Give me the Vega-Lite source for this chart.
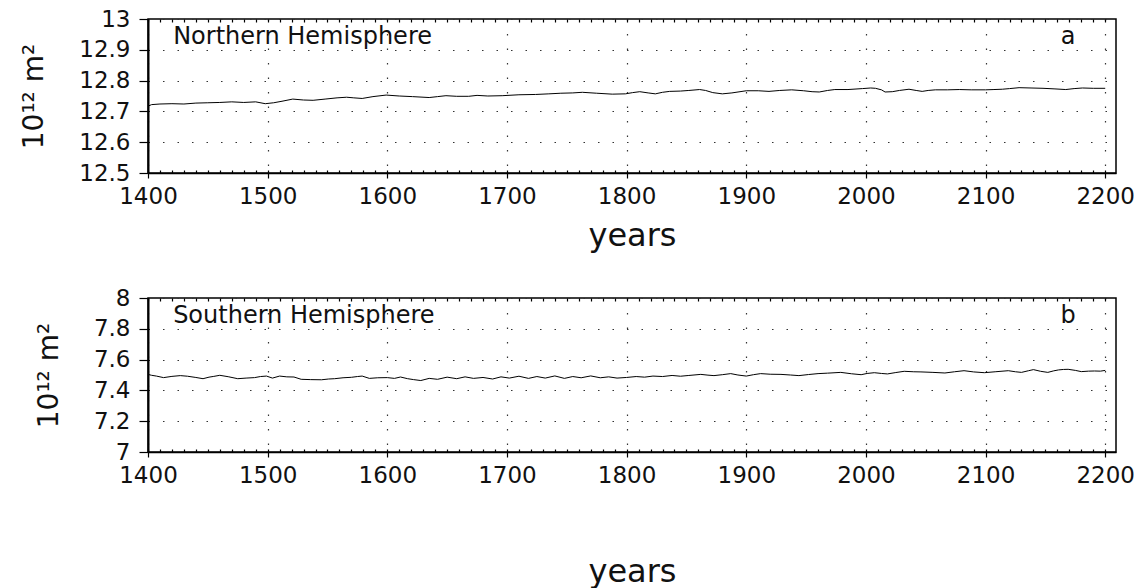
{
  "$schema": "https://vega.github.io/schema/vega-lite/v6.json",
  "background": "white",
  "padding": {"left": 20, "top": 7, "right": 5, "bottom": 0},
  "spacing": 34,
  "datasets": {
    "north": [
      {"year": 1400, "value": 12.717}, {"year": 1403, "value": 12.722}, {"year": 1410, "value": 12.724}, {"year": 1420, "value": 12.725},
      {"year": 1430, "value": 12.724}, {"year": 1440, "value": 12.727}, {"year": 1450, "value": 12.728}, {"year": 1460, "value": 12.729},
      {"year": 1470, "value": 12.731}, {"year": 1480, "value": 12.729}, {"year": 1490, "value": 12.731}, {"year": 1498, "value": 12.725},
      {"year": 1505, "value": 12.728}, {"year": 1512, "value": 12.733}, {"year": 1521, "value": 12.740}, {"year": 1530, "value": 12.737},
      {"year": 1538, "value": 12.736}, {"year": 1548, "value": 12.740}, {"year": 1558, "value": 12.744}, {"year": 1566, "value": 12.746},
      {"year": 1572, "value": 12.744}, {"year": 1579, "value": 12.742}, {"year": 1588, "value": 12.748}, {"year": 1599, "value": 12.753},
      {"year": 1610, "value": 12.750}, {"year": 1621, "value": 12.748}, {"year": 1635, "value": 12.745}, {"year": 1642, "value": 12.748},
      {"year": 1649, "value": 12.751}, {"year": 1658, "value": 12.749}, {"year": 1668, "value": 12.749}, {"year": 1675, "value": 12.752},
      {"year": 1684, "value": 12.750}, {"year": 1696, "value": 12.751}, {"year": 1710, "value": 12.754}, {"year": 1724, "value": 12.755},
      {"year": 1735, "value": 12.757}, {"year": 1745, "value": 12.759}, {"year": 1755, "value": 12.760}, {"year": 1763, "value": 12.762},
      {"year": 1775, "value": 12.759}, {"year": 1788, "value": 12.756}, {"year": 1799, "value": 12.757}, {"year": 1805, "value": 12.761},
      {"year": 1811, "value": 12.764}, {"year": 1818, "value": 12.760}, {"year": 1824, "value": 12.757}, {"year": 1830, "value": 12.762},
      {"year": 1836, "value": 12.765}, {"year": 1845, "value": 12.766}, {"year": 1852, "value": 12.768}, {"year": 1861, "value": 12.771},
      {"year": 1866, "value": 12.768}, {"year": 1872, "value": 12.761}, {"year": 1880, "value": 12.757}, {"year": 1888, "value": 12.760},
      {"year": 1900, "value": 12.767}, {"year": 1910, "value": 12.767}, {"year": 1919, "value": 12.765}, {"year": 1928, "value": 12.768},
      {"year": 1938, "value": 12.770}, {"year": 1948, "value": 12.767}, {"year": 1955, "value": 12.764}, {"year": 1961, "value": 12.763},
      {"year": 1968, "value": 12.768}, {"year": 1974, "value": 12.771}, {"year": 1985, "value": 12.771}, {"year": 1997, "value": 12.774},
      {"year": 2004, "value": 12.776}, {"year": 2008, "value": 12.775}, {"year": 2013, "value": 12.770}, {"year": 2016, "value": 12.763},
      {"year": 2022, "value": 12.764}, {"year": 2028, "value": 12.768}, {"year": 2036, "value": 12.772}, {"year": 2042, "value": 12.768},
      {"year": 2047, "value": 12.765}, {"year": 2052, "value": 12.768}, {"year": 2058, "value": 12.770}, {"year": 2068, "value": 12.770},
      {"year": 2078, "value": 12.771}, {"year": 2088, "value": 12.770}, {"year": 2100, "value": 12.770}, {"year": 2107, "value": 12.771},
      {"year": 2114, "value": 12.772}, {"year": 2120, "value": 12.774}, {"year": 2128, "value": 12.777}, {"year": 2138, "value": 12.776},
      {"year": 2148, "value": 12.775}, {"year": 2158, "value": 12.773}, {"year": 2167, "value": 12.771}, {"year": 2174, "value": 12.774},
      {"year": 2181, "value": 12.776}, {"year": 2190, "value": 12.775}, {"year": 2200, "value": 12.775}
    ],
    "south": [
      {"year": 1400, "value": 7.504}, {"year": 1403, "value": 7.498}, {"year": 1407, "value": 7.493}, {"year": 1413, "value": 7.483},
      {"year": 1420, "value": 7.491}, {"year": 1427, "value": 7.496}, {"year": 1433, "value": 7.492}, {"year": 1440, "value": 7.484},
      {"year": 1446, "value": 7.476}, {"year": 1451, "value": 7.486}, {"year": 1455, "value": 7.491}, {"year": 1460, "value": 7.498},
      {"year": 1467, "value": 7.489}, {"year": 1475, "value": 7.476}, {"year": 1482, "value": 7.480}, {"year": 1489, "value": 7.483},
      {"year": 1494, "value": 7.490}, {"year": 1499, "value": 7.493}, {"year": 1504, "value": 7.480}, {"year": 1510, "value": 7.493},
      {"year": 1516, "value": 7.488}, {"year": 1522, "value": 7.487}, {"year": 1528, "value": 7.472}, {"year": 1536, "value": 7.470},
      {"year": 1545, "value": 7.469}, {"year": 1551, "value": 7.474}, {"year": 1556, "value": 7.476}, {"year": 1563, "value": 7.482},
      {"year": 1570, "value": 7.485}, {"year": 1575, "value": 7.490}, {"year": 1579, "value": 7.493}, {"year": 1585, "value": 7.478},
      {"year": 1592, "value": 7.482}, {"year": 1600, "value": 7.483}, {"year": 1606, "value": 7.478}, {"year": 1611, "value": 7.487},
      {"year": 1617, "value": 7.476}, {"year": 1622, "value": 7.470}, {"year": 1628, "value": 7.464}, {"year": 1635, "value": 7.478},
      {"year": 1642, "value": 7.472}, {"year": 1650, "value": 7.486}, {"year": 1658, "value": 7.476}, {"year": 1665, "value": 7.488},
      {"year": 1672, "value": 7.478}, {"year": 1680, "value": 7.484}, {"year": 1688, "value": 7.474}, {"year": 1695, "value": 7.488},
      {"year": 1702, "value": 7.480}, {"year": 1710, "value": 7.492}, {"year": 1718, "value": 7.478}, {"year": 1725, "value": 7.490},
      {"year": 1732, "value": 7.480}, {"year": 1740, "value": 7.494}, {"year": 1748, "value": 7.478}, {"year": 1755, "value": 7.490},
      {"year": 1762, "value": 7.482}, {"year": 1770, "value": 7.494}, {"year": 1778, "value": 7.482}, {"year": 1785, "value": 7.488},
      {"year": 1792, "value": 7.480}, {"year": 1800, "value": 7.484}, {"year": 1808, "value": 7.490}, {"year": 1815, "value": 7.486},
      {"year": 1822, "value": 7.493}, {"year": 1830, "value": 7.490}, {"year": 1838, "value": 7.497}, {"year": 1845, "value": 7.492},
      {"year": 1852, "value": 7.497}, {"year": 1862, "value": 7.504}, {"year": 1868, "value": 7.499}, {"year": 1873, "value": 7.496},
      {"year": 1880, "value": 7.502}, {"year": 1887, "value": 7.509}, {"year": 1893, "value": 7.500}, {"year": 1900, "value": 7.493},
      {"year": 1906, "value": 7.502}, {"year": 1912, "value": 7.509}, {"year": 1920, "value": 7.505}, {"year": 1929, "value": 7.504},
      {"year": 1937, "value": 7.500}, {"year": 1944, "value": 7.496}, {"year": 1952, "value": 7.503}, {"year": 1960, "value": 7.509},
      {"year": 1968, "value": 7.512}, {"year": 1979, "value": 7.517}, {"year": 1988, "value": 7.508}, {"year": 1996, "value": 7.502},
      {"year": 2001, "value": 7.510}, {"year": 2007, "value": 7.515}, {"year": 2013, "value": 7.510}, {"year": 2018, "value": 7.507},
      {"year": 2025, "value": 7.516}, {"year": 2032, "value": 7.524}, {"year": 2040, "value": 7.521}, {"year": 2046, "value": 7.520},
      {"year": 2056, "value": 7.517}, {"year": 2066, "value": 7.513}, {"year": 2074, "value": 7.521}, {"year": 2082, "value": 7.528},
      {"year": 2090, "value": 7.520}, {"year": 2099, "value": 7.515}, {"year": 2108, "value": 7.521}, {"year": 2119, "value": 7.528},
      {"year": 2125, "value": 7.521}, {"year": 2130, "value": 7.517}, {"year": 2136, "value": 7.528}, {"year": 2140, "value": 7.535},
      {"year": 2146, "value": 7.524}, {"year": 2152, "value": 7.517}, {"year": 2157, "value": 7.527}, {"year": 2161, "value": 7.533},
      {"year": 2165, "value": 7.536}, {"year": 2169, "value": 7.537}, {"year": 2175, "value": 7.530}, {"year": 2180, "value": 7.522},
      {"year": 2186, "value": 7.525}, {"year": 2191, "value": 7.526}, {"year": 2196, "value": 7.525}, {"year": 2200, "value": 7.530}
    ],
    "northLabels": [{"label": "Northern Hemisphere", "panel": "a"}],
    "southLabels": [{"label": "Southern Hemisphere", "panel": "b"}]
  },
  "vconcat": [
    {
      "width": 968,
      "height": 154,
      "layer": [
        {
          "data": {"name": "north"},
          "mark": {"type": "line", "color": "black", "strokeWidth": 1},
          "encoding": {
            "x": {
              "field": "year", "type": "quantitative",
              "scale": {"domain": [1400, 2209], "nice": false, "zero": false},
              "axis": {"values": [1400, 1500, 1600, 1700, 1800, 1900, 2000, 2100, 2200], "format": "d", "title": "years", "grid": true, "tickSize": 5, "titlePadding": 12}
            },
            "y": {
              "field": "value", "type": "quantitative",
              "scale": {"domain": [12.5, 13], "nice": false, "zero": false},
              "axis": {"values": [12.5, 12.6, 12.7, 12.8, 12.9, 13], "format": "~g", "title": "10¹² m²", "labelOverlap": false}
            }
          }
        },
        {
          "data": {"name": "north"},
          "mark": {"type": "line", "opacity": 0},
          "encoding": {
            "x": {
              "field": "year", "type": "quantitative",
              "scale": {"domain": [1400, 2209], "nice": false, "zero": false},
              "axis": {"orient": "top", "tickCount": 80, "labels": false, "domain": false, "grid": false, "title": null, "tickSize": -3}
            },
            "y": {"field": "value", "type": "quantitative", "axis": null}
          }
        },
        {
          "data": {"name": "north"},
          "mark": {"type": "line", "opacity": 0},
          "encoding": {
            "x": {
              "field": "year", "type": "quantitative",
              "scale": {"domain": [1400, 2209], "nice": false, "zero": false},
              "axis": {"orient": "bottom", "tickCount": 80, "labels": false, "domain": false, "grid": false, "title": null, "tickSize": -3}
            },
            "y": {"field": "value", "type": "quantitative", "axis": null}
          }
        },
        {
          "data": {"name": "northLabels"},
          "mark": {"type": "text", "align": "left", "baseline": "alphabetic", "fontSize": 24, "font": "DejaVu Sans", "color": "#111"},
          "encoding": {
            "x": {"datum": 1421, "axis": null},
            "y": {"datum": 12.919, "axis": null},
            "text": {"field": "label"}
          }
        },
        {
          "data": {"name": "northLabels"},
          "mark": {"type": "text", "align": "center", "baseline": "alphabetic", "fontSize": 24, "font": "DejaVu Sans", "color": "#111"},
          "encoding": {
            "x": {"datum": 2169, "axis": null},
            "y": {"datum": 12.919, "axis": null},
            "text": {"field": "panel"}
          }
        }
      ],
      "resolve": {"axis": {"x": "independent", "y": "independent"}}
    },
    {
      "width": 968,
      "height": 154,
      "layer": [
        {
          "data": {"name": "south"},
          "mark": {"type": "line", "color": "black", "strokeWidth": 1},
          "encoding": {
            "x": {
              "field": "year", "type": "quantitative",
              "scale": {"domain": [1400, 2209], "nice": false, "zero": false},
              "axis": {"values": [1400, 1500, 1600, 1700, 1800, 1900, 2000, 2100, 2200], "format": "d", "title": "years", "grid": true, "tickSize": 5, "titlePadding": 69}
            },
            "y": {
              "field": "value", "type": "quantitative",
              "scale": {"domain": [7, 8], "nice": false, "zero": false},
              "axis": {"values": [7, 7.2, 7.4, 7.6, 7.8, 8], "format": "~g", "title": "10¹² m²", "labelOverlap": false}
            }
          }
        },
        {
          "data": {"name": "south"},
          "mark": {"type": "line", "opacity": 0},
          "encoding": {
            "x": {
              "field": "year", "type": "quantitative",
              "scale": {"domain": [1400, 2209], "nice": false, "zero": false},
              "axis": {"orient": "top", "tickCount": 80, "labels": false, "domain": false, "grid": false, "title": null, "tickSize": -3}
            },
            "y": {"field": "value", "type": "quantitative", "axis": null}
          }
        },
        {
          "data": {"name": "south"},
          "mark": {"type": "line", "opacity": 0},
          "encoding": {
            "x": {
              "field": "year", "type": "quantitative",
              "scale": {"domain": [1400, 2209], "nice": false, "zero": false},
              "axis": {"orient": "bottom", "tickCount": 80, "labels": false, "domain": false, "grid": false, "title": null, "tickSize": -3}
            },
            "y": {"field": "value", "type": "quantitative", "axis": null}
          }
        },
        {
          "data": {"name": "southLabels"},
          "mark": {"type": "text", "align": "left", "baseline": "alphabetic", "fontSize": 24, "font": "DejaVu Sans", "color": "#111"},
          "encoding": {
            "x": {"datum": 1421, "axis": null},
            "y": {"datum": 7.837, "axis": null},
            "text": {"field": "label"}
          }
        },
        {
          "data": {"name": "southLabels"},
          "mark": {"type": "text", "align": "center", "baseline": "alphabetic", "fontSize": 24, "font": "DejaVu Sans", "color": "#111"},
          "encoding": {
            "x": {"datum": 2169, "axis": null},
            "y": {"datum": 7.837, "axis": null},
            "text": {"field": "panel"}
          }
        }
      ],
      "resolve": {"axis": {"x": "independent", "y": "independent"}}
    }
  ],
  "config": {
    "font": "DejaVu Sans",
    "view": {"stroke": "black", "strokeWidth": 1.5},
    "axis": {
      "domainColor": "black",
      "domainWidth": 1.5,
      "tickColor": "black",
      "tickWidth": 1.2,
      "labelFont": "DejaVu Sans",
      "labelFontSize": 23,
      "labelColor": "#111",
      "labelFontWeight": "normal",
      "titleFont": "DejaVu Sans",
      "titleFontWeight": "normal",
      "titleColor": "#111",
      "gridColor": "#333",
      "gridDash": [1.5, 13],
      "gridWidth": 1.2,
      "gridOpacity": 1,
      "labelOverlap": false,
      "labelFlush": false
    },
    "axisX": {"labelPadding": 7, "titleFontSize": 32},
    "axisY": {"tickSize": 9, "labelPadding": 9, "domainWidth": 2, "titleFontSize": 28, "titlePadding": 30, "grid": true}
  }
}
